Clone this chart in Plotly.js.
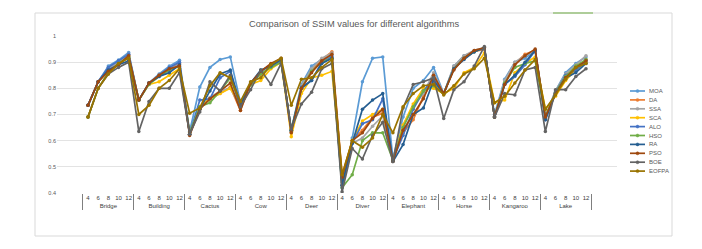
<!DOCTYPE html>
<html>
<head>
<meta charset="utf-8">
<script src="https://cdn.plot.ly/plotly-3.0.1.min.js"></script>
<style>html,body{margin:0;padding:0;background:#fff;}#chart{width:702px;height:249px;}</style>
</head>
<body>
<div id="chart"></div>
<script>
// ---- data ----
const images = ['Bridge','Building','Cactus','Cow','Deer','Diver','Elephant','Horse','Kangaroo','Lake'];
const thresholds = ['4','6','8','10','12'];
const seriesNames = ['MOA','DA','SSA','SCA','ALO','HSO','RA','PSO','BOE','EOFPA'];

const MOA = [0.735,0.825,0.885,0.908,0.937, 0.755,0.82,0.855,0.885,0.907, 0.635,0.805,0.88,0.91,0.92, 0.745,0.82,0.86,0.89,0.91, 0.64,0.815,0.885,0.91,0.925, 0.42,0.61,0.825,0.915,0.92, 0.53,0.69,0.80,0.83,0.88, 0.78,0.885,0.925,0.94,0.955, 0.70,0.835,0.90,0.915,0.945, 0.69,0.79,0.86,0.895,0.92];
const DA = [0.735,0.825,0.87,0.90,0.925, 0.755,0.82,0.85,0.875,0.895, 0.625,0.725,0.76,0.78,0.805, 0.715,0.82,0.855,0.885,0.905, 0.63,0.80,0.87,0.91,0.94, 0.47,0.60,0.64,0.69,0.705, 0.525,0.63,0.68,0.77,0.83, 0.78,0.88,0.92,0.94,0.95, 0.69,0.82,0.895,0.93,0.945, 0.69,0.78,0.845,0.88,0.91];
const SSA = [0.735,0.825,0.875,0.90,0.93, 0.755,0.82,0.85,0.875,0.89, 0.625,0.725,0.765,0.79,0.80, 0.73,0.815,0.86,0.885,0.905, 0.64,0.81,0.875,0.915,0.935, 0.44,0.59,0.61,0.655,0.695, 0.53,0.66,0.73,0.78,0.86, 0.78,0.885,0.925,0.945,0.955, 0.69,0.83,0.90,0.925,0.945, 0.695,0.79,0.855,0.89,0.925];
const SCA = [0.69,0.80,0.86,0.89,0.92, 0.755,0.815,0.825,0.85,0.875, 0.63,0.73,0.76,0.78,0.80, 0.74,0.815,0.83,0.875,0.90, 0.615,0.78,0.84,0.85,0.865, 0.46,0.60,0.675,0.70,0.72, 0.525,0.66,0.74,0.80,0.80, 0.78,0.80,0.86,0.88,0.935, 0.745,0.755,0.86,0.895,0.92, 0.72,0.77,0.83,0.87,0.90];
const ALO = [0.735,0.825,0.88,0.905,0.93, 0.755,0.82,0.85,0.88,0.90, 0.625,0.755,0.76,0.84,0.865, 0.73,0.82,0.865,0.89,0.905, 0.635,0.805,0.83,0.90,0.92, 0.43,0.59,0.665,0.68,0.76, 0.525,0.62,0.72,0.79,0.835, 0.78,0.875,0.915,0.94,0.955, 0.69,0.815,0.845,0.89,0.945, 0.68,0.785,0.85,0.87,0.905];
const HSO = [0.69,0.80,0.86,0.895,0.92, 0.755,0.815,0.845,0.87,0.885, 0.63,0.73,0.745,0.79,0.84, 0.735,0.815,0.855,0.88,0.90, 0.64,0.80,0.865,0.90,0.915, 0.42,0.47,0.60,0.63,0.63, 0.525,0.65,0.73,0.79,0.81, 0.78,0.875,0.915,0.94,0.955, 0.69,0.82,0.88,0.895,0.905, 0.69,0.785,0.845,0.885,0.91];
const RA = [0.735,0.825,0.87,0.89,0.905, 0.755,0.82,0.845,0.86,0.89, 0.625,0.72,0.79,0.855,0.87, 0.735,0.82,0.87,0.885,0.91, 0.64,0.80,0.83,0.895,0.915, 0.43,0.59,0.72,0.755,0.78, 0.52,0.585,0.70,0.725,0.83, 0.78,0.875,0.91,0.94,0.955, 0.69,0.815,0.85,0.90,0.945, 0.68,0.78,0.84,0.86,0.895];
const PSO = [0.735,0.825,0.865,0.89,0.925, 0.755,0.82,0.85,0.875,0.885, 0.62,0.72,0.76,0.79,0.82, 0.715,0.82,0.865,0.895,0.915, 0.63,0.80,0.86,0.905,0.93, 0.46,0.60,0.63,0.685,0.72, 0.52,0.64,0.70,0.76,0.85, 0.78,0.87,0.915,0.945,0.955, 0.69,0.815,0.89,0.925,0.95, 0.69,0.78,0.84,0.88,0.905];
const BOE = [0.69,0.80,0.855,0.88,0.90, 0.635,0.75,0.80,0.80,0.86, 0.625,0.71,0.825,0.79,0.85, 0.73,0.795,0.87,0.815,0.895, 0.645,0.74,0.785,0.875,0.895, 0.405,0.57,0.53,0.62,0.67, 0.52,0.725,0.815,0.825,0.84, 0.685,0.795,0.825,0.885,0.96, 0.69,0.78,0.775,0.87,0.88, 0.635,0.795,0.795,0.845,0.875];
const EOFPA = [0.69,0.80,0.855,0.895,0.915, 0.70,0.735,0.80,0.83,0.875, 0.705,0.725,0.81,0.86,0.84, 0.75,0.825,0.84,0.89,0.915, 0.735,0.835,0.84,0.88,0.91, 0.47,0.60,0.575,0.61,0.70, 0.63,0.73,0.78,0.81,0.815, 0.775,0.81,0.855,0.875,0.915, 0.745,0.77,0.82,0.87,0.91, 0.72,0.775,0.835,0.88,0.895];

const seriesValues = [MOA,DA,SSA,SCA,ALO,HSO,RA,PSO,BOE,EOFPA];

// ---- styles ----
const colors = ['#5B9BD5','#ED7D31','#A5A5A5','#FFC000','#4472C4','#70AD47','#255E91','#9E480E','#636363','#997300'];
const FONT = 'Liberation Sans, Arial, sans-serif';

const xGroup = [], xThr = [];
images.forEach(g => thresholds.forEach(t => { xGroup.push(g); xThr.push(t); }));

const traces = seriesNames.map((n, i) => ({
  type: 'scatter', mode: 'lines+markers', name: n,
  x: [xGroup, xThr], y: seriesValues[i],
  line: {color: colors[i], width: 1.7},
  marker: {color: colors[i], size: 3.5},
  showlegend: false
}));

// plot area pixels
const L = 57, R = 617, T = 36, B = 193;
const W = R - L, H = B - T;
const px = v => (v - L) / W;
const py = v => (B - v) / H;

const shapes = [
  {type:'rect', xref:'paper', yref:'paper', x0:px(35), x1:px(672), y0:py(236), y1:py(13), line:{color:'#D9D9D9', width:1}, layer:'below'},
  {type:'line', xref:'paper', yref:'paper', x0:px(553), x1:px(593), y0:py(13), y1:py(13), line:{color:'#70AD47', width:1.2}}
];
const annotations = [];
seriesNames.forEach((n, i) => {
  const yy = 91 + i * 8.9;
  shapes.push({type:'line', xref:'paper', yref:'paper', x0:px(630), x1:px(645), y0:py(yy), y1:py(yy), line:{color:colors[i], width:1.7}});
  shapes.push({type:'circle', xref:'paper', yref:'paper', x0:px(636), x1:px(639), y0:py(yy+1.5), y1:py(yy-1.5), fillcolor:colors[i], line:{color:colors[i], width:0.5}});
  annotations.push({xref:'paper', yref:'paper', x:px(647), y:py(yy), xanchor:'left', yanchor:'middle', text:n, showarrow:false, font:{family:FONT, size:6, color:'#595959'}});
});

const layout = {
  width: 702, height: 249,
  margin: {l: L, r: 702 - R, t: T, b: 249 - B, pad: 0},
  paper_bgcolor: '#ffffff', plot_bgcolor: '#ffffff',
  font: {family: FONT, color: '#595959'},
  title: {text: 'Comparison of SSIM values for different algorithms', x: 354/702, xref: 'container', y: 1 - 24/249, yanchor: 'middle', font: {family: FONT, size: 9.3, color: '#595959'}},
  showlegend: false,
  xaxis: {
    type: 'multicategory', showgrid: false, zeroline: false, showline: false,
    tickangle: 0, ticklen: 0,
    tickfont: {family: FONT, size: 6, color: '#404040'},
    showdividers: true, dividercolor: '#7F7F7F', dividerwidth: 1,
    ticks: ''
  },
  yaxis: {
    range: [0.4, 1.0], dtick: 0.1, tick0: 0.4, showgrid: true, gridcolor: '#E3E3E3', gridwidth: 1,
    zeroline: false, showline: false, ticks: '',
    tickfont: {family: FONT, size: 5.5, color: '#595959'}
  },
  shapes: shapes,
  annotations: annotations
};

Plotly.newPlot('chart', traces, layout, {displayModeBar: false, staticPlot: true});
</script>
</body>
</html>
